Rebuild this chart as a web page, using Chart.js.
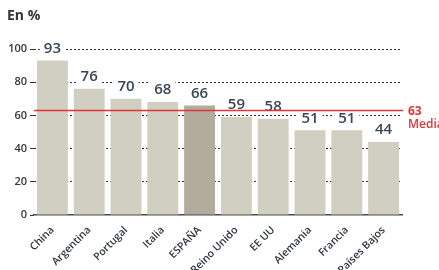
<!DOCTYPE html>
<html>
<head>
<meta charset="utf-8">
<script src="https://cdn.jsdelivr.net/npm/chart.js@4.4.1/dist/chart.umd.min.js"></script>
<style>
  html, body { margin: 0; padding: 0; background: #fff; }
  #wrap { width: 439px; height: 270px; position: relative; }
</style>
</head>
<body>
<div id="wrap"><canvas id="chart"></canvas></div>
<script>
// data
const countries = ['China', 'Argentina', 'Portugal', 'Italia', 'ESPAÑA', 'Reino Unido', 'EE UU', 'Alemania', 'Francia', 'Países Bajos'];
const values = [93, 76, 70, 68, 66, 59, 58, 51, 51, 44];
const mediaValue = 63;
const mediaLabel = 'Media';
const yTicks = [0, 20, 40, 60, 80, 100];
const unitTitle = 'En %';

const barColor = '#d1cfc1';
const spainColor = '#b2ac9d';
const labelColor = '#3b4656';
const red = '#e3343b';

// value labels above bars, with a white box so the grid is hidden behind them
const valueLabels = {
    id: 'valueLabels',
    afterDatasetsDraw(chart) {
        const ctx = chart.ctx;
        const meta = chart.getDatasetMeta(0);
        ctx.save();
        ctx.font = '600 15px "Open Sans"';
        ctx.textAlign = 'center';
        ctx.textBaseline = 'middle';
        meta.data.forEach((bar, i) => {
            const txt = String(values[i]);
            const w = ctx.measureText(txt).width;
            const y = bar.y - 12;
            ctx.fillStyle = '#fff';
            ctx.fillRect(bar.x - w / 2 - 4, y - 9, w + 8, 17);
            ctx.fillStyle = labelColor;
            ctx.fillText(txt, bar.x, y);
        });
        ctx.restore();
    }
};

// red average line with its label on the right
const mediaLine = {
    id: 'mediaLine',
    afterDraw(chart) {
        const ctx = chart.ctx;
        const area = chart.chartArea;
        const y = chart.scales.y.getPixelForValue(mediaValue);
        ctx.save();
        ctx.strokeStyle = red;
        ctx.lineWidth = 1.5;
        ctx.beginPath();
        ctx.moveTo(area.left, y);
        ctx.lineTo(area.right + 1, y);
        ctx.stroke();
        ctx.fillStyle = red;
        ctx.textAlign = 'left';
        ctx.textBaseline = 'middle';
        ctx.font = '700 12px "Open Sans"';
        ctx.fillText(String(mediaValue), area.right + 6, y + 1);
        ctx.font = '600 12px "Open Sans"';
        ctx.fillText(mediaLabel, area.right + 6, y + 14);
        // title
        ctx.fillStyle = '#333';
        ctx.font = '700 14px "Open Sans"';
        ctx.textBaseline = 'alphabetic';
        ctx.fillText(unitTitle, 7, 20);
        ctx.restore();
    }
};

const ctx = document.getElementById('chart').getContext('2d');
new Chart(ctx, {
    type: 'bar',
    data: {
        labels: countries,
        datasets: [{
            data: values,
            backgroundColor: countries.map(c => c === 'ESPAÑA' ? spainColor : barColor),
            barPercentage: 0.84,
            categoryPercentage: 1
        }]
    },
    options: {
        responsive: true,
        maintainAspectRatio: false,
        animation: false,
        layout: { padding: { top: 49, right: 37, left: 0, bottom: 0 } },
        plugins: { legend: { display: false }, tooltip: { enabled: false } },
        scales: {
            x: {
                grid: { display: false },
                border: { display: true, color: '#4a4a4a', width: 1.5 },
                ticks: {
                    minRotation: 45,
                    maxRotation: 45,
                    padding: 1,
                    color: '#2f3540',
                    font: { family: 'Open Sans', size: 10.5, weight: '600' }
                },
                afterFit(scale) { scale.height = 55; }
            },
            y: {
                min: 0,
                max: 100,
                afterBuildTicks(scale) { scale.ticks = yTicks.map(v => ({ value: v })); },
                grid: {
                    color: c => c.tick && c.tick.value === 0 ? 'rgba(0,0,0,0)' : '#333',
                    lineWidth: 1,
                    drawTicks: true,
                    tickLength: 4,
                    tickColor: '#333'
                },
                border: { display: false, dash: [2, 2] },
                ticks: {
                    padding: 3,
                    color: '#2f3540',
                    font: { family: 'Open Sans', size: 11, weight: '600' }
                },
                afterFit(scale) { scale.width = 34; }
            }
        }
    },
    plugins: [valueLabels, mediaLine]
});
</script>
</body>
</html>
